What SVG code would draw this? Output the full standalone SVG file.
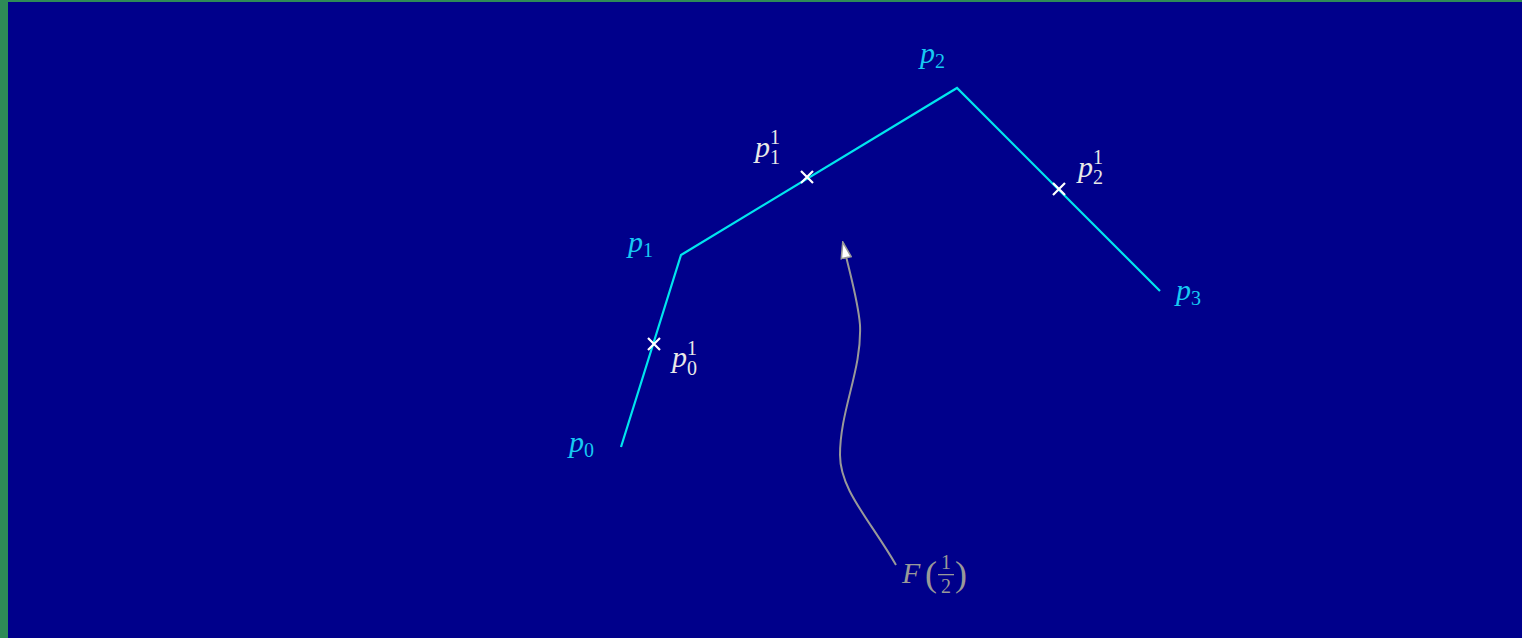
<svg xmlns="http://www.w3.org/2000/svg" width="1522" height="638" viewBox="0 0 1522 638">
<style>
.m{font-family:"Liberation Serif","DejaVu Serif",serif;font-style:italic;font-size:30px}
.n{font-family:"Liberation Serif","DejaVu Serif",serif;font-size:20px;font-style:normal}
.p{font-family:"Liberation Serif","DejaVu Serif",serif;font-size:36px;font-style:normal}
.c{fill:#17c9f2}
.w{fill:#e8e8e8}
.g{fill:#999999}
.x{stroke:#ffffff;stroke-width:2.2;fill:none}
</style>
<defs>
<marker id="ah" markerWidth="18" markerHeight="12" refX="16" refY="6" orient="auto" markerUnits="userSpaceOnUse">
<path d="M1,1 L17,6 L1,11 Z" fill="#ffffff" stroke="#999999" stroke-width="1.6"/>
</marker>
</defs>
<rect x="0" y="0" width="1522" height="638" fill="#2e8b57"/>
<rect x="8" y="2" width="1514" height="636" fill="#00008b"/>
<g id="connectors">
<polyline points="621,447 681,255 957,88 1160,291" fill="none" stroke="#00e5ee" stroke-width="2.2"/>
<path d="M896,565 C870,520 840,490 840,455 C840,410 862,370 860,325 C858,300 850,275 843,243" fill="none" stroke="#999999" stroke-width="2" marker-end="url(#ah)"/>
</g>
<g id="p0"><text x="569" y="452" class="m c">p<tspan class="n" dy="5">0</tspan></text></g>
<g id="p1"><text x="628" y="252" class="m c">p<tspan class="n" dy="5">1</tspan></text></g>
<g id="p2"><text x="920" y="63" class="m c">p<tspan class="n" dy="5">2</tspan></text></g>
<g id="p3"><text x="1176" y="300" class="m c">p<tspan class="n" dy="5">3</tspan></text></g>
<g id="p01">
<path class="x" d="M648,338 L660,350 M660,338 L648,350"/>
<text x="672" y="367" class="m w">p</text><text x="687" y="375" class="n w">0</text><text x="687" y="355" class="n w">1</text>
</g>
<g id="p11">
<path class="x" d="M801,171 L813,183 M813,171 L801,183"/>
<text x="755" y="157" class="m w">p</text><text x="770" y="164" class="n w">1</text><text x="770" y="144" class="n w">1</text>
</g>
<g id="p21">
<path class="x" d="M1053,183 L1065,195 M1065,183 L1053,195"/>
<text x="1078" y="177" class="m w">p</text><text x="1093" y="184" class="n w">2</text><text x="1093" y="164" class="n w">1</text>
</g>
<g id="F">
<text x="902" y="583" class="m g">F</text>
<text x="925" y="586" class="p g">(</text>
<text x="946" y="569" class="n g" text-anchor="middle">1</text>
<rect x="938" y="574" width="16" height="1.3" fill="#999999"/>
<text x="946" y="593" class="n g" text-anchor="middle">2</text>
<text x="955" y="586" class="p g">)</text>
</g>
</svg>
